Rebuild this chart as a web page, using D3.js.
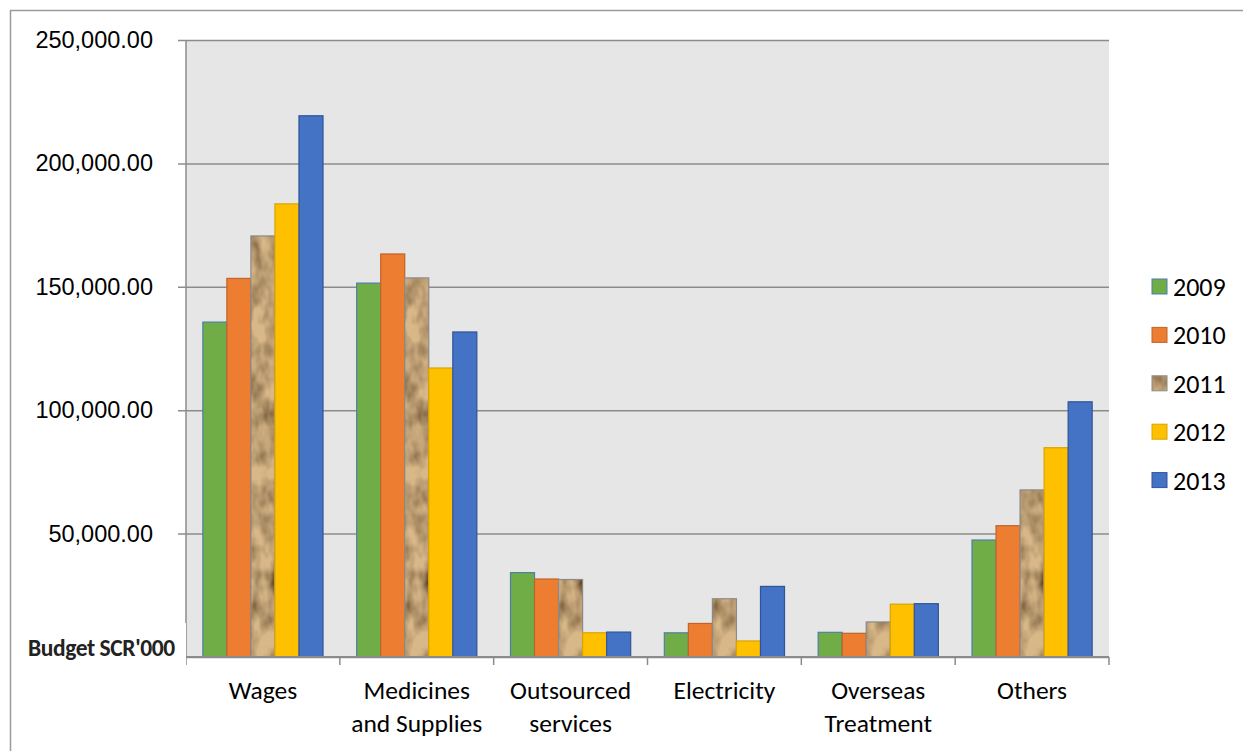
<!DOCTYPE html>
<html>
<head>
<meta charset="utf-8">
<script src="https://cdn.jsdelivr.net/npm/d3@7"></script>
<style>
  body { margin: 0; background: #fff; }
  svg { display: block; font-family: Carlito, Calibri, Lato, "Open Sans", sans-serif; }
  .tick-label { font-size: 23.5px; fill: #000; }
  .cat-label { font-size: 25.5px; fill: #000; }
  .leg-text { font-size: 26px; fill: #000; }
  .budget { font-size: 23.5px; font-weight: bold; fill: #222; letter-spacing: -0.4px; }
</style>
</head>
<body>
<svg width="1243" height="751"></svg>
<script>
/* ----------------------------------------------------------
data
---------------------------------------------------------- */
var categories = [
  ["Wages"],
  ["Medicines", "and Supplies"],
  ["Outsourced", "services"],
  ["Electricity"],
  ["Overseas", "Treatment"],
  ["Others"]
];
var years = ["2009", "2010", "2011", "2012", "2013"];

// budget SCR'000 per category, one array per year
var v2009 = [135700, 151500, 34200, 9800, 10000, 47400];
var v2010 = [153400, 163300, 31600, 13600, 9600, 53200];
var v2011 = [170600, 153600, 31400, 23600, 14200, 67700];
var v2012 = [183600, 117100, 9800, 6500, 21400, 84800];
var v2013 = [219300, 131700, 10100, 28600, 21600, 103400];
var yTicks = [0, 50000, 100000, 150000, 200000, 250000];

var series = [v2009, v2010, v2011, v2012, v2013];
var fills = ["#70ad47", "#ed7d31", "url(#paper)", "#ffc000", "#4472c4"];
var strokes = ["#4f7fa8", "#c0652a", "#8a8a8a", "#d9a300", "#2f5597"];

/* ----------------------------------------------------------
prepare
---------------------------------------------------------- */
var svg = d3.select("svg");
var plot = { left: 186, right: 1109, top: 40, bottom: 657 };

// crumpled-paper texture for 2011
var defs = svg.append("defs");
var pf = defs.append("filter").attr("id", "paperTex")
  .attr("x", 0).attr("y", 0).attr("width", 1).attr("height", 1);
pf.append("feTurbulence").attr("type", "fractalNoise")
  .attr("baseFrequency", "0.06 0.035").attr("numOctaves", 3).attr("seed", 7).attr("result", "n");
pf.append("feColorMatrix").attr("in", "n").attr("type", "matrix")
  .attr("values", "0 0 0 0 0  0 0 0 0 0  0 0 0 0 0  1.8 0 0 0 -0.6")
  .attr("result", "a");
pf.append("feFlood").attr("flood-color", "#5e3d18").attr("result", "dark");
pf.append("feComposite").attr("in", "dark").attr("in2", "a").attr("operator", "in").attr("result", "shade");
pf.append("feFlood").attr("flood-color", "#d8b788").attr("result", "base");
pf.append("feMerge").call(function (m) {
  m.append("feMergeNode").attr("in", "base");
  m.append("feMergeNode").attr("in", "shade");
});
var pat = defs.append("pattern").attr("id", "paper")
  .attr("patternUnits", "userSpaceOnUse").attr("width", 200).attr("height", 700);
pat.append("rect").attr("width", 200).attr("height", 700).attr("filter", "url(#paperTex)");

// frame
svg.append("line").attr("x1", 10).attr("y1", 10.5).attr("x2", 1243).attr("y2", 10.5)
  .attr("stroke", "#9b9b9b").attr("stroke-width", 1.5);
svg.append("line").attr("x1", 10.5).attr("y1", 10).attr("x2", 10.5).attr("y2", 751)
  .attr("stroke", "#9b9b9b").attr("stroke-width", 1.5);

var x0 = d3.scaleBand().domain(d3.range(categories.length))
  .range([plot.left, plot.right]).paddingInner(0).paddingOuter(0);
var x1 = d3.scaleBand().domain(d3.range(years.length))
  .range([0, x0.bandwidth()]).paddingOuter(0.7).paddingInner(0);
var y = d3.scaleLinear().domain([0, 250000]).range([plot.bottom, plot.top]);

svg.append("rect").attr("x", plot.left).attr("y", plot.top)
  .attr("width", plot.right - plot.left).attr("height", plot.bottom - plot.top)
  .attr("fill", "#e6e6e6");

// y axis (the 0 label sits under the "Budget" caption, so it is left blank)
var fmt = d3.format(",.2f");
var yAxis = d3.axisLeft(y).tickValues(yTicks)
  .tickSize(-(plot.right - plot.left)).tickSizeOuter(0)
  .tickFormat(function (d) { return d === 0 ? "" : fmt(d); }).tickPadding(33);
var gy = svg.append("g").attr("transform", "translate(" + plot.left + ",0)").call(yAxis);
gy.select(".domain").remove();
gy.selectAll(".tick line").attr("x1", -8).attr("stroke", "#8c8c8c").attr("stroke-width", 1.5);
gy.selectAll(".tick text").attr("class", "tick-label").attr("font-size", null).attr("font-family", null);
svg.append("line").attr("x1", plot.left).attr("x2", plot.left)
  .attr("y1", plot.top).attr("y2", plot.bottom).attr("stroke", "#8c8c8c").attr("stroke-width", 1.5);

// bars
var groups = svg.selectAll(".grp").data(categories).enter().append("g")
  .attr("class", "grp")
  .attr("transform", function (d, i) { return "translate(" + x0(i) + ",0)"; });

groups.selectAll("rect").data(function (d, i) {
  return series.map(function (s, k) { return { k: k, v: s[i] }; });
}).enter().append("rect")
  .attr("x", function (d) { return x1(d.k); })
  .attr("y", function (d) { return y(d.v); })
  .attr("width", x1.bandwidth())
  .attr("height", function (d) { return plot.bottom - y(d.v); })
  .attr("fill", function (d) { return fills[d.k]; })
  .attr("stroke", function (d) { return strokes[d.k]; })
  .attr("stroke-width", 1.2);

// x axis
svg.append("line").attr("x1", plot.left - 1).attr("x2", plot.right)
  .attr("y1", plot.bottom).attr("y2", plot.bottom).attr("stroke", "#8c8c8c").attr("stroke-width", 2);
svg.selectAll(".xtick").data(d3.range(categories.length + 1)).enter().append("line")
  .attr("x1", function (d) { return plot.left + d * x0.step(); })
  .attr("x2", function (d) { return plot.left + d * x0.step(); })
  .attr("y1", plot.bottom).attr("y2", plot.bottom + 8)
  .attr("stroke", "#8c8c8c").attr("stroke-width", 1.5);

var labs = svg.selectAll(".cat").data(categories).enter().append("text")
  .attr("class", "cat-label").attr("text-anchor", "middle")
  .attr("x", function (d, i) { return x0(i) + x0.bandwidth() / 2; })
  .attr("y", 699);
labs.selectAll("tspan").data(function (d) { return d; }).enter().append("tspan")
  .attr("x", function () { return d3.select(this.parentNode).attr("x"); })
  .attr("dy", function (d, j) { return j ? 33 : 0; })
  .text(function (d) { return d; });

// budget caption
svg.append("rect").attr("x", 24).attr("y", 623).attr("width", 162).attr("height", 42).attr("fill", "#fff");
svg.append("text").attr("class", "budget").attr("x", 28).attr("y", 656).text("Budget SCR'000");

// legend
var leg = svg.selectAll(".leg").data(years).enter().append("g")
  .attr("transform", function (d, i) { return "translate(1152," + (279 + i * 48.4) + ")"; });
leg.append("rect").attr("width", 15).attr("height", 15)
  .attr("fill", function (d, i) { return fills[i]; })
  .attr("stroke", function (d, i) { return strokes[i]; }).attr("stroke-width", 1);
leg.append("text").attr("class", "leg-text").attr("x", 21).attr("y", 17).text(function (d) { return d; });
</script>
</body>
</html>
